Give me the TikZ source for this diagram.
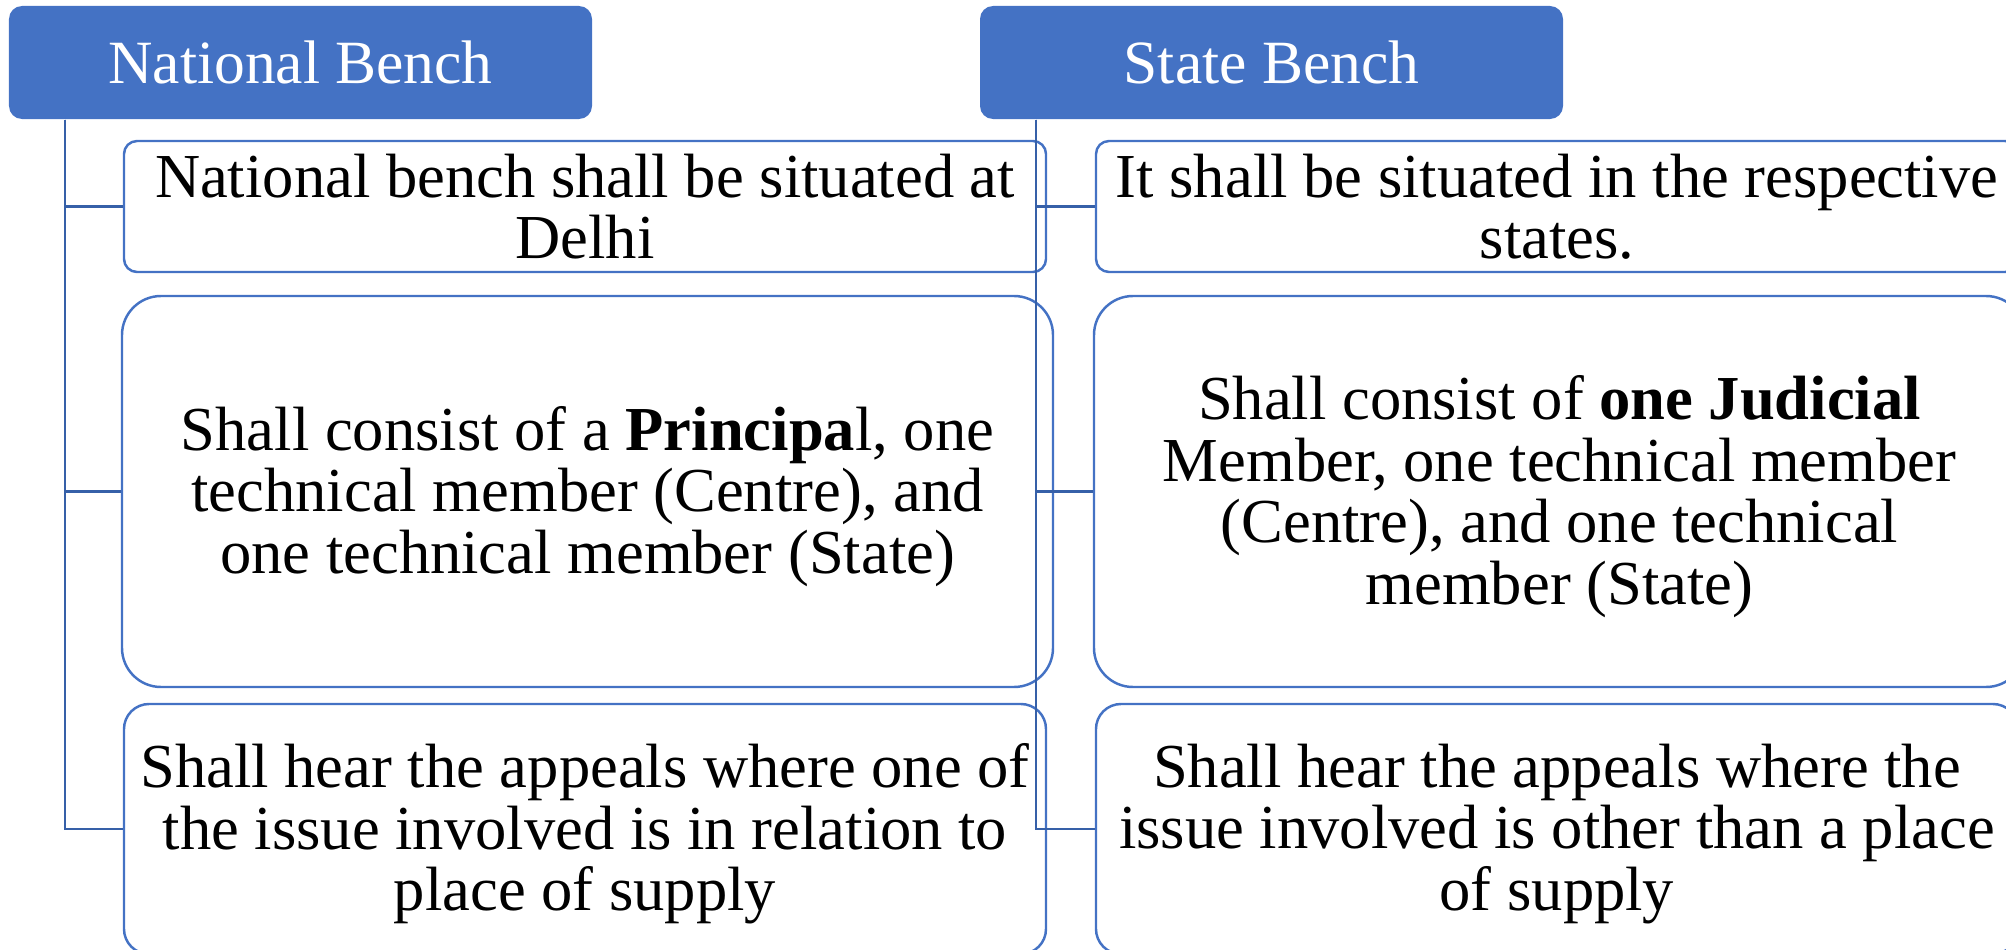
\documentclass[tikz,border=0pt]{standalone}
\usepackage{fontspec}
\setmainfont{Liberation Serif}
\usetikzlibrary{positioning}
\definecolor{benchblue}{HTML}{4472C4}
\definecolor{linkblue}{HTML}{3660A8}

\begin{document}
\begin{tikzpicture}[x=1mm,y=1mm,
  bench/.style={fill=benchblue, text=white, rounded corners=1.3mm, inner sep=0pt,
    minimum width=58.3mm, minimum height=11.3mm, font=\fontsize{17.5}{18}\selectfont},
  duty/.style={draw=benchblue, line width=0.7pt, fill=white, inner sep=0pt,
    minimum width=92.2mm},
  dutytext/.style={align=center, inner sep=0pt,
    font=\fontsize{17.8}{17.5}\selectfont},
  link/.style={draw=linkblue, line width=0.7pt}]
\useasboundingbox (0,0) rectangle (200.6,-95);
\clip (0,0) rectangle (200.6,-95);

\node[bench] (nat) at (30.05,-6.25) {National Bench};
\node[bench] (st) at (127.15,-6.25) {State Bench};

\node[duty, minimum height=13.1mm, rounded corners=1.3mm] (nat1) at (58.5,-20.65) {};
\node[duty, minimum height=39.1mm, minimum width=93.1mm, rounded corners=3.9mm] (nat2) at (58.75,-49.15) {};
\node[duty, minimum height=25mm, rounded corners=2.5mm] (nat3) at (58.5,-82.9) {};
\node[duty, minimum height=13.1mm, rounded corners=1.3mm] (st1) at (155.7,-20.65) {};
\node[duty, minimum height=39.1mm, minimum width=93.1mm, rounded corners=3.9mm] (st2) at (155.95,-49.15) {};
\node[duty, minimum height=25mm, rounded corners=2.5mm] (st3) at (155.7,-82.9) {};

\node[dutytext] (nat1t) at (nat1) {National bench shall be situated at\\Delhi};
\node[dutytext] (nat2t) at ([yshift=-0.5mm]nat2) {Shall consist of a \textbf{Principa}l, one\\technical member (Centre), and\\one technical member (State)};
\node[dutytext] (nat3t) at ([yshift=-0.5mm]nat3) {Shall hear the appeals where one of\\the issue involved is in relation to\\place of supply};
\node[dutytext] (st1t) at (st1) {It shall be situated in the respective\\states.};
\node[dutytext] (st2t) at ([yshift=-0.5mm]st2) {Shall consist of \textbf{one Judicial}\\Member, one technical member\\(Centre), and one technical\\member (State)};
\node[dutytext] (st3t) at ([yshift=-0.5mm]st3) {Shall hear the appeals where the\\issue involved is other than a place\\of supply};

\foreach \b in {nat,st}
  \foreach \i in {1,2,3}
    \draw[link] ([xshift=5.65mm]\b.south west) |- (\b\i.west);
\end{tikzpicture}
\end{document}
